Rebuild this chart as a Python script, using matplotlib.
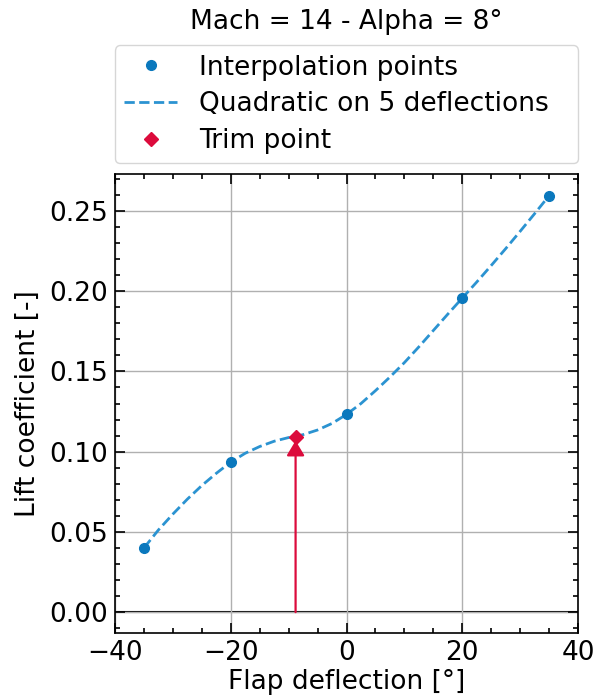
import matplotlib
matplotlib.use("Agg")
import matplotlib.pyplot as plt
from matplotlib.ticker import MultipleLocator

# Interpolation points
defl_pts = [-35, -20, 0, 20, 35]
cl_pts = [0.0400, 0.0935, 0.1232, 0.1957, 0.2595]

# Quadratic curve
curve_x = [-35, -32.5, -30, -27.5, -25, -22.5, -20, -17.5, -15, -12.5, -10,
           -7.5, -5, -2.5, 0, 2.5, 5, 7.5, 10, 12.5, 15, 17.5, 20, 22.5, 25,
           27.5, 30, 32.5, 35]
curve_y = [0.0400, 0.0512, 0.0611, 0.0704, 0.0789, 0.0865, 0.0935, 0.0990,
           0.1032, 0.1065, 0.1088, 0.1106, 0.1135, 0.1176, 0.1232, 0.1300,
           0.1380, 0.1465, 0.1555, 0.1653, 0.1755, 0.1857, 0.1957, 0.2057,
           0.2160, 0.2265, 0.2373, 0.2483, 0.2595]

# Trim point
trim_x = -8.8
trim_y = 0.109

title = "Mach = 14 - Alpha = 8°"
xlabel = "Flap deflection [°]"
ylabel = "Lift coefficient [-]"

FS = 19
plt.rcParams['font.family'] = ['DejaVu Sans']
fig = plt.figure(figsize=(6.04, 6.95), dpi=100)
ax = fig.add_axes([0.1904, 0.0892, 0.957 - 0.1904, 0.7496 - 0.0892])

ax.grid(True, which='major', color='#b0b0b0', lw=1.0, zorder=0)
ax.axhline(0, color='black', lw=1.5, zorder=1)

ax.plot(defl_pts, cl_pts, 'o', color='#0a78bd', ms=7, zorder=3,
        label='Interpolation points')
ax.plot(curve_x, curve_y, '--', color='#2b93d1', lw=2.0, zorder=2,
        label='Quadratic on 5 deflections')
ax.plot([trim_x], [trim_y], 'D', color='#dc0b3c', ms=7, zorder=4,
        label='Trim point')
ax.annotate('', xy=(trim_x, trim_y), xytext=(trim_x, 0),
            arrowprops=dict(arrowstyle='-|>,head_length=0.45,head_width=0.27',
                            mutation_scale=20, color='#dc0b3c', lw=1.6,
                            shrinkA=0, shrinkB=2.5),
            zorder=3)

ax.set_xlim(-40, 40)
ax.set_ylim(-0.013, 0.273)
ax.xaxis.set_major_locator(MultipleLocator(20))
ax.xaxis.set_minor_locator(MultipleLocator(5))
ax.yaxis.set_major_locator(MultipleLocator(0.05))
ax.yaxis.set_minor_locator(MultipleLocator(0.01))
ax.tick_params(which='both', direction='in', top=True, right=True,
               labelsize=FS, width=1.2)
ax.tick_params(which='major', length=7, pad=5)
ax.tick_params(which='minor', length=3.5)
for s in ax.spines.values():
    s.set_linewidth(1.2)

ax.set_xlabel(xlabel, fontsize=FS, labelpad=2)
ax.set_ylabel(ylabel, fontsize=FS, labelpad=6)

ax.legend(loc='lower left', bbox_to_anchor=(0, 1.024, 1, 0.2), mode='expand',
          fontsize=FS, handlelength=2.0, handletextpad=0.85, borderaxespad=0,
          frameon=True, fancybox=True, labelspacing=0.4, borderpad=0.35)

fig.text((0.1904 + 0.957) / 2, 1 - 22 / 695, title, ha='center', va='center',
         fontsize=FS)

fig.savefig('out.png', dpi=100)
